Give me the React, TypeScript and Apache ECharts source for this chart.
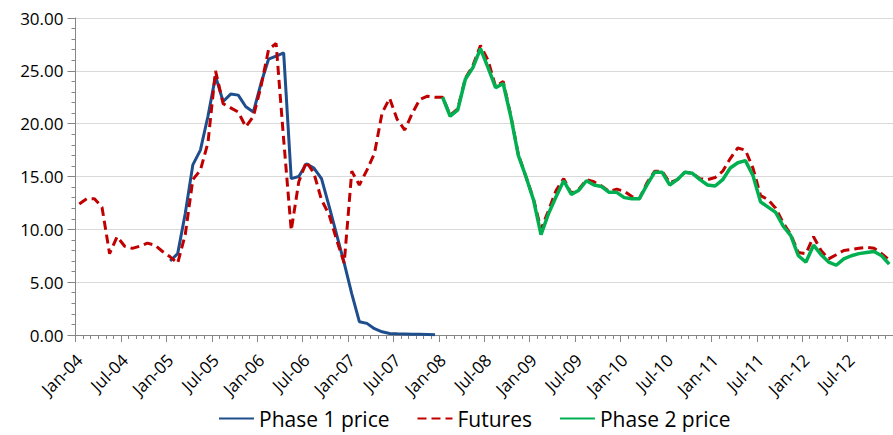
import React, { useEffect, useRef } from "react";
import * as echarts from "echarts";

const monthNames = ["Jan", "Feb", "Mar", "Apr", "May", "Jun", "Jul", "Aug", "Sep", "Oct", "Nov", "Dec"];
const years = ["04", "05", "06", "07", "08", "09", "10", "11", "12"];
const categories = years.flatMap((y) => monthNames.map((m) => `${m}-${y}`));

const futures = [
  12.4, 12.9, 12.9, 12.1, 7.7, 9.3, 8.4, 8.2, 8.4, 8.7, 8.5, 7.9,
  7.4, 6.8, 9.5, 14.7, 15.6, 18.2, 25.0, 21.9, 21.5, 21.1, 19.7, 20.7,
  23.5, 27.0, 27.6, 18.5, 9.9, 14.5, 16.4, 15.3, 12.8, 11.4, 9.0, 6.8,
  15.5, 14.2, 15.6, 17.2, 21.0, 22.4, 20.4, 19.4, 21.0, 22.3, 22.6, 22.5,
  22.5, 20.8, 21.4, 24.3, 25.5, 27.4, 26.0, 23.5, 24.0, 20.8, 17.1, 15.0,
  12.9, 10.0, 11.8, 13.7, 14.8, 13.4, 13.8, 14.7, 14.5, 14.1, 13.6, 13.8,
  13.6, 13.1, 12.9, 14.4, 15.5, 15.5, 14.4, 14.7, 15.4, 15.3, 14.8, 14.7,
  14.9, 15.5, 16.7, 17.7, 17.5, 15.8, 13.2, 12.8, 12.0, 10.6, 9.5, 7.8,
  7.7, 9.3, 8.0, 7.2, 7.6, 8.0, 8.1, 8.2, 8.3, 8.2, 7.7, 7.1,
];

const phase1Start = 12;
const phase1 = [
  7.0, 7.7, 11.5, 16.1, 17.5, 20.7, 24.5, 22.1, 22.8, 22.7, 21.6, 21.1,
  23.8, 26.1, 26.4, 26.7, 14.8, 15.0, 16.2, 15.8, 14.8, 12.2, 9.5, 6.8,
  3.9, 1.26, 1.1, 0.6, 0.3, 0.15, 0.12, 0.1, 0.08, 0.06, 0.04, 0.02,
];

const phase2Start = 48;
const phase2 = [
  22.5, 20.7, 21.3, 24.2, 25.3, 27.1, 25.3, 23.4, 23.8, 20.7, 17.0, 15.0,
  12.8, 9.5, 11.5, 13.1, 14.6, 13.3, 13.7, 14.6, 14.2, 14.05, 13.5, 13.5,
  13.0, 12.9, 12.9, 14.2, 15.4, 15.4, 14.2, 14.7, 15.4, 15.3, 14.7, 14.2,
  14.1, 14.7, 15.8, 16.3, 16.5, 15.1, 12.6, 12.1, 11.6, 10.3, 9.4, 7.5,
  6.9, 8.5, 7.6, 6.9, 6.6, 7.2, 7.5, 7.7, 7.8, 7.9, 7.5, 6.7,
];

const FONT = "'Open Sans', sans-serif";
const AXIS_GRAY = "#868686";

export default function App() {
  const ref = useRef<HTMLDivElement>(null);

  useEffect(() => {
    if (!ref.current) return;
    const chart = echarts.init(ref.current, null, { renderer: "svg" });
    const phase1Data = phase1.map((v, k) => [k + phase1Start, v]);
    const phase2Data = phase2.map((v, k) => [k + phase2Start, v]);
    chart.setOption({
      animation: false,
      backgroundColor: "#ffffff",
      grid: { left: 75.5, top: 18, width: 823.5, height: 317 },
      legend: {
        left: 213,
        top: 403,
        itemWidth: 35,
        itemHeight: 14,
        itemGap: 27,
        itemStyle: { opacity: 0 },
        textStyle: { fontFamily: FONT, fontSize: 21, color: "#000" },
        data: ["Phase 1 price", "Futures", "Phase 2 price"],
      },
      xAxis: [
        {
          type: "category",
          data: categories,
          boundaryGap: true,
          position: "bottom",
          axisLine: { show: true, lineStyle: { color: AXIS_GRAY, width: 1 } },
          axisTick: { show: true, interval: 5, length: 7, lineStyle: { color: AXIS_GRAY } },
          axisLabel: {
            interval: 5,
            rotate: 45,
            margin: 22,
            fontFamily: FONT,
            fontSize: 17,
            color: "#000",
          },
          splitLine: { show: false },
        },
        {
          type: "category",
          data: categories,
          boundaryGap: true,
          position: "bottom",
          offset: 0,
          axisLine: { show: false },
          axisTick: { show: true, interval: 0, length: 4, lineStyle: { color: AXIS_GRAY } },
          axisLabel: { show: false },
          splitLine: { show: false },
        },
      ],
      yAxis: {
        type: "value",
        min: 0,
        max: 30,
        interval: 5,
        axisLine: { show: true, lineStyle: { color: AXIS_GRAY, width: 1 } },
        axisTick: { show: true, length: 8, lineStyle: { color: AXIS_GRAY } },
        minorTick: { show: true, splitNumber: 5, length: 4, lineStyle: { color: AXIS_GRAY } },
        axisLabel: {
          formatter: (v: number) => v.toFixed(2),
          fontFamily: FONT,
          fontSize: 17,
          color: "#000",
          margin: 12,
        },
        splitLine: { show: true, lineStyle: { color: "#D9D9D9", width: 1 } },
      },
      series: [
        {
          name: "Phase 1 price",
          type: "line",
          data: phase1Data,
          symbol: "none",
          color: "#1F4E8C",
          lineStyle: { color: "#1F4E8C", width: 3 },
        },
        {
          name: "Futures",
          type: "line",
          data: futures,
          symbol: "none",
          color: "#C00000",
          lineStyle: { color: "#C00000", width: 3, type: [9, 5] },
        },
        {
          name: "Phase 2 price",
          type: "line",
          data: phase2Data,
          symbol: "none",
          color: "#00B050",
          lineStyle: { color: "#00B050", width: 3.5 },
        },
      ],
    });
    return () => chart.dispose();
  }, []);

  return (
    <div
      ref={ref}
      style={{ position: "fixed", left: 0, top: 0, width: 893, height: 435 }}
    />
  );
}
